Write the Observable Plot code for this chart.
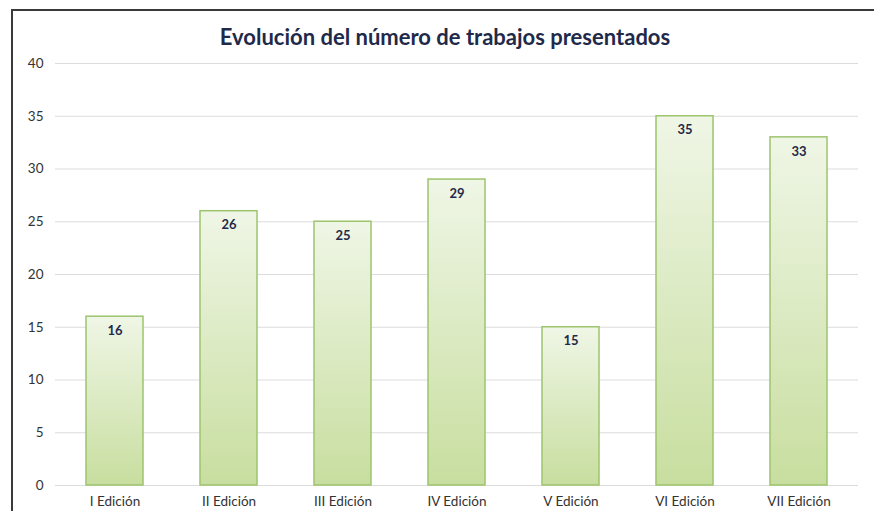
<!DOCTYPE html>
<html>
<head>
<meta charset="utf-8">
<script src="https://cdn.jsdelivr.net/npm/d3@7"></script>
<script src="https://cdn.jsdelivr.net/npm/@observablehq/plot@0.6"></script>
<style>
  html, body { margin: 0; padding: 0; background: #fff; }
  #wrap { position: relative; width: 874px; height: 511px; overflow: hidden; font-family: Lato, "Open Sans", sans-serif; }
  #frame { position: absolute; left: 11px; top: 9px; right: -4px; bottom: -4px; border-left: 2px solid #3a3a3a; border-top: 2px solid #3a3a3a; }
  #title { position: absolute; left: 11px; width: 868px; top: 23px; text-align: center; font-size: 22px; font-weight: bold; color: #1f2a4a; }
  #chart { position: absolute; left: 0; top: 0; }
</style>
</head>
<body>
<div id="wrap">
  <div id="frame"></div>
  <div id="chart"></div>
  <div id="title">Evolución del número de trabajos presentados</div>
</div>
<script>
const categories = ["I Edición", "II Edición", "III Edición", "IV Edición", "V Edición", "VI Edición", "VII Edición"];
const values = [16, 26, 25, 29, 15, 35, 33];
const yTicks = [0, 5, 10, 15, 20, 25, 30, 35, 40];

const data = categories.map((c, i) => ({ edicion: c, trabajos: values[i] }));

const chart = Plot.plot({
  width: 874,
  height: 511,
  marginTop: 63,
  marginBottom: 26,
  marginLeft: 55,
  marginRight: 16,
  style: { fontFamily: "Lato, 'Open Sans', sans-serif", fontSize: "13.5px", color: "#333", background: "transparent" },
  x: { domain: categories, paddingInner: 0.5, paddingOuter: 0.25, label: null, tickSize: 0, tickPadding: 11 },
  y: { domain: [0, 40], ticks: yTicks, label: null, tickSize: 0, tickPadding: 12 },
  marks: [
    Plot.gridY(yTicks, { stroke: "#dcdcdc", strokeOpacity: 1 }),
    Plot.barY(data, { x: "edicion", y: "trabajos", fill: "url(#barGrad)", stroke: "#9dc46e", strokeWidth: 1.5 }),
    Plot.text(data, { x: "edicion", y: "trabajos", text: d => String(d.trabajos), dy: 14, fontWeight: "bold", fill: "#1f2a4a", fontSize: 13 })
  ]
});

const svg = d3.select(chart);
const defs = svg.insert("defs", ":first-child");
const g = defs.append("linearGradient").attr("id", "barGrad").attr("x1", 0).attr("y1", 0).attr("x2", 0).attr("y2", 1);
g.append("stop").attr("offset", "0%").attr("stop-color", "#eff6e6");
g.append("stop").attr("offset", "100%").attr("stop-color", "#c8de9f");

document.getElementById("chart").appendChild(chart);
</script>
</body>
</html>
